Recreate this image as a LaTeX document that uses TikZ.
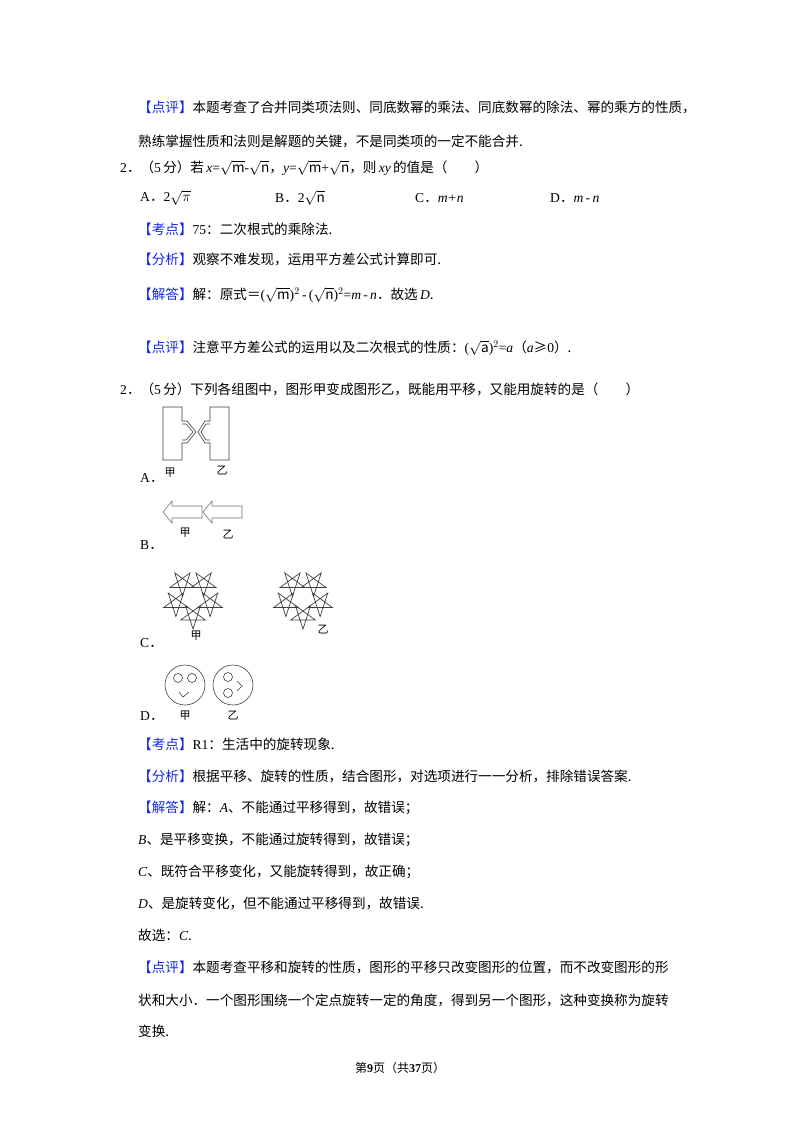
\documentclass[tikz,border=0pt]{standalone}
\usepackage{fontspec}
\setmainfont{Noto Sans CJK SC}
\newfontfamily\lat{Liberation Serif}
\definecolor{kblue}{RGB}{20,40,230}
\newcommand{\kb}[1]{{\color{kblue}【#1】}}
\newcommand{\li}[1]{{\lat\itshape #1}}
\newcommand{\lr}[1]{{\lat #1}}
\begin{document}
\begin{tikzpicture}[x=1pt,y=-1pt,
  txt/.style={anchor=west,inner sep=0pt,font=\fontsize{13.6}{15}\selectfont},
  fig/.style={draw=black!75,line width=0.6pt},
  lab/.style={inner sep=0pt,font=\fontsize{11}{12}\selectfont}]
\useasboundingbox (0,0) rectangle (800,1132);
\fill[white] (0,0) rectangle (800,1132);
\node[txt] (l1) at (138,107) {\kb{点评}本题考查了合并同类项法则、同底数幂的乘法、同底数幂的除法、幂的乘方的性质，};
\node[txt] (l2) at (138,141) {熟练掌握性质和法则是解题的关键，不是同类项的一定不能合并.};
\node[txt] (l3) at (120,168) {\lr{2}．（\lr{5}\,分）若\,\li{x}\lr{=}$\sqrt{\mathrm{m}}$\lr{-}$\sqrt{\mathrm{n}}$，\li{y}\lr{=}$\sqrt{\mathrm{m}}$\lr{+}$\sqrt{\mathrm{n}}$，则\,\li{xy}\,的值是（\quad\quad）};
\node[txt] (oa) at (140,198) {\lr{A}．\lr{2}$\sqrt{\pi}$};
\node[txt] (ob) at (275,198) {\lr{B}．\lr{2}$\sqrt{\mathrm{n}}$};
\node[txt] (oc) at (415,198) {\lr{C}．\li{m+n}};
\node[txt] (od) at (550,198) {\lr{D}．\li{m}\,\lr{-}\,\li{n}};
\node[txt] (l4) at (138,229) {\kb{考点}\lr{75}：二次根式的乘除法.};
\node[txt] (l5) at (138,259) {\kb{分析}观察不难发现，运用平方差公式计算即可.};
\node[txt] (l6) at (138,295) {\kb{解答}解：原式＝\lr{(}$\sqrt{\mathrm{m}}$\lr{)}$^{2}$\,\lr{-}\,\lr{(}$\sqrt{\mathrm{n}}$\lr{)}$^{2}$\lr{=}\li{m}\,\lr{-}\,\li{n}．故选\,\li{D}.};
\node[txt] (l7) at (138,348) {\kb{点评}注意平方差公式的运用以及二次根式的性质：\lr{(}$\sqrt{\mathrm{a}}$\lr{)}$^{2}$\lr{=}\li{a}（\li{a}≥\lr{0}）.};
\node[txt] (l8) at (120,389) {\lr{2}．（\lr{5}\,分）下列各组图中，图形甲变成图形乙，既能用平移，又能用旋转的是（\quad\quad）};
% A
\draw[fig] (163,407)--(182,407)--(182,421)--(187,421)--(196,432)--(187,443)--(182,443)--(182,460)--(163,460)--cycle;
\draw[fig] (182,424)--(186,424)--(193,432)--(186,440)--(182,440);
\draw[fig] (229,407)--(210,407)--(210,421)--(205,421)--(198,432)--(205,443)--(210,443)--(210,460)--(229,460)--cycle;
\draw[fig] (210,424)--(206,424)--(201,432)--(206,440)--(210,440);
\node[lab] (aj) at (170,473) {甲};
\node[lab] (ay) at (222,471) {乙};
\node[txt] (la) at (140,478) {\lr{A}．};
% B
\draw[fig,black!55] (163,512)--(172,501)--(172,506)--(202,506)--(202,518)--(172,518)--(172,523)--cycle;
\draw[fig,black!55] (203,512)--(212,501)--(212,506)--(242,506)--(242,518)--(212,518)--(212,523)--cycle;
\node[lab] (bj) at (185,533) {甲};
\node[lab] (by) at (228,535) {乙};
\node[txt] (lb) at (140,545) {\lr{B}．};
% C
\foreach \cx in {193,303}{
 \foreach \a in {-90,-18,54,126,198}{
  \begin{scope}[shift={({\cx+18*cos(\a)},{598-18*sin(\a)})}]
   \draw[fig,line width=0.7pt] (90:13)--(234:13)--(18:13)--(162:13)--(306:13)--cycle;
  \end{scope}}}
\node[lab] (cj) at (196,636) {甲};
\node[lab] (cy) at (323,630) {乙};
\node[txt] (lc) at (140,643) {\lr{C}．};
% D
\draw[fig] (185,685) circle (20);
\draw[fig] (178,678) circle (4.5);
\draw[fig] (192,678) circle (4.5);
\draw[fig] (179,692)--(183,697)--(189,692);
\draw[fig] (233,685) circle (20);
\draw[fig] (228,677) circle (4.5);
\draw[fig] (228,693) circle (4.5);
\draw[fig] (237,681)--(242,686)--(237,691);
\node[lab] (dj) at (185,716) {甲};
\node[lab] (dy) at (233,716) {乙};
\node[txt] (ld) at (140,716) {\lr{D}．};
\node[txt] (m1) at (138,744) {\kb{考点}\lr{R1}：生活中的旋转现象.};
\node[txt] (m2) at (138,776) {\kb{分析}根据平移、旋转的性质，结合图形，对选项进行一一分析，排除错误答案.};
\node[txt] (m3) at (138,808) {\kb{解答}解：\li{A}、不能通过平移得到，故错误；};
\node[txt] (m4) at (138,840) {\li{B}、是平移变换，不能通过旋转得到，故错误；};
\node[txt] (m5) at (138,872) {\li{C}、既符合平移变化，又能旋转得到，故正确；};
\node[txt] (m6) at (138,903) {\li{D}、是旋转变化，但不能通过平移得到，故错误.};
\node[txt] (m7) at (138,935) {故选：\li{C}.};
\node[txt] (m8) at (138,967) {\kb{点评}本题考查平移和旋转的性质，图形的平移只改变图形的位置，而不改变图形的形};
\node[txt] (m9) at (138,1000) {状和大小．一个图形围绕一个定点旋转一定的角度，得到另一个图形，这种变换称为旋转};
\node[txt] (m10) at (138,1031) {变换.};
\node[inner sep=0pt,font=\fontsize{12}{14}\selectfont] (pg) at (400,1068) {第\textbf{\lr{9}}页（共\textbf{\lr{37}}页）};
\end{tikzpicture}
\end{document}
